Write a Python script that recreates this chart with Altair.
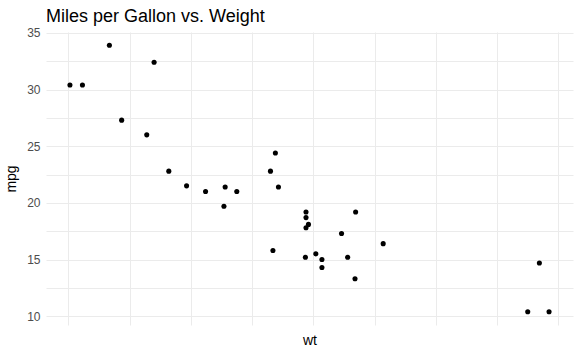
import altair as alt
import pandas as pd

wt = [2.620, 2.875, 2.320, 3.215, 3.440, 3.460, 3.570, 3.190, 3.150, 3.440, 3.440,
      4.070, 3.730, 3.780, 5.250, 5.424, 5.345, 2.200, 1.615, 1.835, 2.465, 3.520,
      3.435, 3.840, 3.845, 1.935, 2.140, 1.513, 3.170, 2.770, 3.570, 2.780]
mpg = [21.0, 21.0, 22.8, 21.4, 18.7, 18.1, 14.3, 24.4, 22.8, 19.2, 17.8,
       16.4, 17.3, 15.2, 10.4, 10.4, 14.7, 32.4, 30.4, 33.9, 21.5, 15.5,
       15.2, 13.3, 19.2, 27.3, 26.0, 30.4, 15.8, 19.7, 15.0, 21.4]
x_grid = [1.5, 2.0, 2.5, 3.0, 3.5, 4.0, 4.5, 5.0, 5.5]
y_grid = [10, 12.5, 15, 17.5, 20, 22.5, 25, 27.5, 30, 32.5, 35]

df = pd.DataFrame({"wt": wt, "mpg": mpg})

chart = alt.Chart(df).mark_circle(size=26, color="black", opacity=1).encode(
    x=alt.X("wt:Q",
            scale=alt.Scale(domain=[1.3175, 5.6195], nice=False, zero=False),
            axis=alt.Axis(values=x_grid, labels=False, ticks=False, domain=False,
                          title="wt", titleFontWeight="normal", titleFontSize=14,
                          titleColor="black", titlePadding=8, titleFont="Liberation Sans")),
    y=alt.Y("mpg:Q",
            scale=alt.Scale(domain=[9.225, 35.075], nice=False, zero=False),
            axis=alt.Axis(values=y_grid, ticks=False, domain=False,
                          labelExpr="datum.value % 5 == 0 ? datum.label : ''",
                          labelColor="#4d4d4d", labelFontSize=12, labelPadding=6,
                          labelFont="Liberation Sans",
                          title="mpg", titleFontWeight="normal", titleFontSize=14,
                          titleColor="black", titlePadding=8, titleFont="Liberation Sans")),
).properties(
    width=527, height=293,
    title=alt.TitleParams("Miles per Gallon vs. Weight", anchor="start", frame="group",
                          fontSize=18, fontWeight="normal", color="black",
                          font="Liberation Sans", offset=1),
    autosize="none",
    padding={"left": 46, "top": 32, "right": 8, "bottom": 30},
).configure_axis(
    gridColor="#ebebeb", gridWidth=1
).configure_view(stroke=None)

chart.save("out.html", embed_options={"renderer": "svg", "actions": False})
